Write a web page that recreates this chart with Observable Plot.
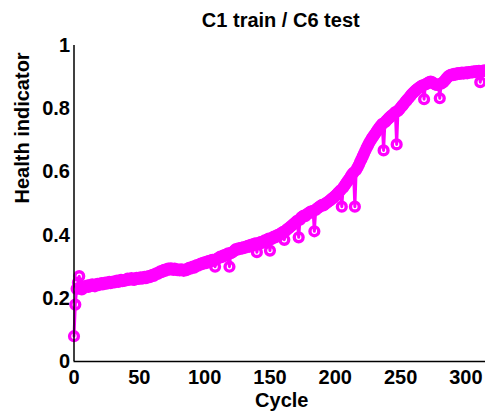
<!DOCTYPE html>
<html>
<head>
<meta charset="utf-8">
<script src="https://cdn.jsdelivr.net/npm/d3@7"></script>
<script src="https://cdn.jsdelivr.net/npm/@observablehq/plot@0.6"></script>
<style>
  html, body { margin: 0; padding: 0; background: #fff; }
</style>
</head>
<body>
<div id="chart"></div>
<script>
const titleText = "C1 train / C6 test";
const xLabel = "Cycle";
const yLabel = "Health indicator";
const xTicks = [0, 50, 100, 150, 200, 250, 300];
const yTicks = [0, 0.2, 0.4, 0.6, 0.8, 1];
const yTickLabels = ["0", "0.2", "0.4", "0.6", "0.8", "1"];

// health indicator value per cycle (cycle = index, 0..315)
const healthIndicator = [
  0.080, 0.180, 0.230, 0.250, 0.270, 0.235, 0.228, 0.232, 0.236, 0.238,
  0.240, 0.236, 0.242, 0.239, 0.244, 0.241, 0.238, 0.243, 0.246, 0.242,
  0.245, 0.248, 0.244, 0.247, 0.250, 0.246, 0.249, 0.252, 0.248, 0.251,
  0.253, 0.250, 0.254, 0.256, 0.252, 0.255, 0.258, 0.254, 0.257, 0.256,
  0.259, 0.262, 0.258, 0.261, 0.264, 0.260, 0.258, 0.262, 0.265, 0.261,
  0.263, 0.266, 0.262, 0.265, 0.268, 0.264, 0.266, 0.270, 0.267, 0.271,
  0.274, 0.271, 0.276, 0.279, 0.277, 0.282, 0.285, 0.283, 0.288, 0.290,
  0.287, 0.292, 0.294, 0.291, 0.295, 0.293, 0.290, 0.294, 0.292, 0.289,
  0.291, 0.288, 0.292, 0.290, 0.287, 0.291, 0.289, 0.293, 0.296, 0.294,
  0.298, 0.300, 0.297, 0.302, 0.305, 0.303, 0.307, 0.310, 0.308, 0.312,
  0.314, 0.311, 0.316, 0.318, 0.315, 0.320, 0.322, 0.319, 0.300, 0.324,
  0.326, 0.329, 0.332, 0.330, 0.334, 0.337, 0.335, 0.339, 0.342, 0.300,
  0.343, 0.345, 0.348, 0.352, 0.356, 0.354, 0.358, 0.356, 0.360, 0.358,
  0.362, 0.360, 0.364, 0.366, 0.363, 0.368, 0.370, 0.367, 0.372, 0.374,
  0.346, 0.371, 0.376, 0.378, 0.375, 0.380, 0.383, 0.381, 0.386, 0.389,
  0.351, 0.387, 0.392, 0.395, 0.393, 0.398, 0.401, 0.399, 0.404, 0.407,
  0.410, 0.385, 0.413, 0.418, 0.421, 0.424, 0.428, 0.431, 0.435, 0.438,
  0.442, 0.446, 0.393, 0.449, 0.456, 0.459, 0.462, 0.460, 0.465, 0.468,
  0.471, 0.474, 0.472, 0.477, 0.412, 0.480, 0.484, 0.487, 0.490, 0.493,
  0.496, 0.494, 0.498, 0.501, 0.504, 0.507, 0.510, 0.514, 0.517, 0.520,
  0.524, 0.528, 0.533, 0.537, 0.542, 0.490, 0.550, 0.556, 0.562, 0.568,
  0.574, 0.580, 0.587, 0.593, 0.598, 0.490, 0.606, 0.614, 0.622, 0.631,
  0.640, 0.649, 0.658, 0.667, 0.676, 0.684, 0.692, 0.699, 0.706, 0.712,
  0.718, 0.724, 0.730, 0.736, 0.742, 0.747, 0.752, 0.668, 0.757, 0.762,
  0.766, 0.770, 0.774, 0.778, 0.781, 0.785, 0.789, 0.687, 0.793, 0.798,
  0.803, 0.808, 0.813, 0.818, 0.823, 0.828, 0.833, 0.838, 0.843, 0.848,
  0.852, 0.856, 0.860, 0.863, 0.866, 0.869, 0.872, 0.874, 0.830, 0.877,
  0.879, 0.882, 0.884, 0.886, 0.884, 0.881, 0.878, 0.876, 0.875, 0.877,
  0.833, 0.879, 0.882, 0.885, 0.890, 0.895, 0.900, 0.904, 0.906, 0.908,
  0.906, 0.910, 0.908, 0.911, 0.913, 0.910, 0.912, 0.914, 0.911, 0.913,
  0.915, 0.912, 0.916, 0.914, 0.917, 0.915, 0.918, 0.916, 0.919, 0.917,
  0.920, 0.884, 0.918, 0.919, 0.921, 0.920
];

const rows = healthIndicator.map((v, i) => ({cycle: i, hi: v}));
const magenta = "#ff00ff";
const fs = 20;

const chart = Plot.plot({
  width: 485,
  height: 412,
  marginLeft: 73.5,
  marginRight: 0,
  marginTop: 45,
  marginBottom: 51,
  style: {
    fontFamily: "'Liberation Sans', Arial, sans-serif",
    fontSize: fs + "px",
    fontWeight: "bold",
    color: "#000",
    background: "#fff",
    overflow: "hidden"
  },
  x: {
    domain: [0, 315],
    ticks: xTicks,
    tickSize: 0,
    tickPadding: 8,
    label: null
  },
  y: {
    domain: [0, 1],
    ticks: yTicks,
    tickFormat: (d) => yTickLabels[yTicks.indexOf(d)],
    tickSize: 0,
    tickPadding: 4,
    label: null
  },
  marks: [
    Plot.line(rows, {x: "cycle", y: "hi", stroke: magenta, strokeWidth: 3}),
    Plot.dot(rows, {x: "cycle", y: "hi", r: 4.4, stroke: magenta, strokeWidth: 3.4, fill: "none"}),
    Plot.ruleX([0], {stroke: "#000", strokeWidth: 1.5}),
    Plot.ruleY([0], {stroke: "#000", strokeWidth: 1.5}),
    Plot.text([titleText], {frameAnchor: "top", dx: 1, dy: -19, lineAnchor: "bottom", fontSize: fs, fontWeight: "bold", fill: "#000"}),
    Plot.text([xLabel], {frameAnchor: "bottom", dx: 2, dy: 45, lineAnchor: "bottom", fontSize: fs, fontWeight: "bold", fill: "#000"}),
    Plot.text([yLabel], {frameAnchor: "left", dx: -51, rotate: -90, lineAnchor: "middle", fontSize: fs, fontWeight: "bold", fill: "#000"})
  ]
});
document.getElementById("chart").appendChild(chart);
</script>
</body>
</html>
